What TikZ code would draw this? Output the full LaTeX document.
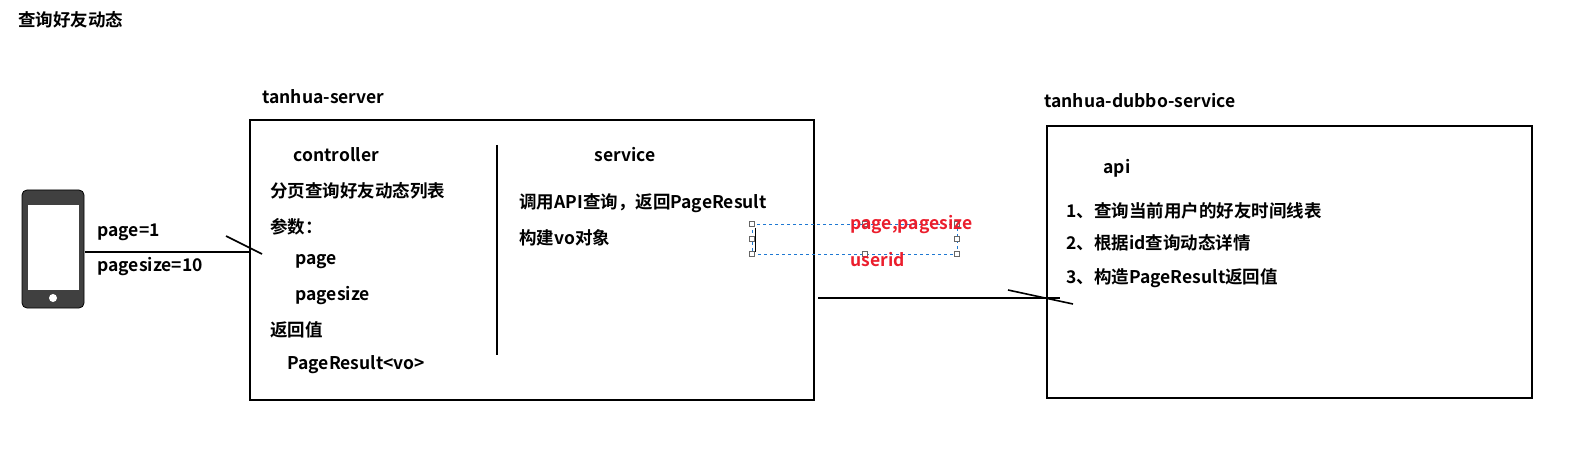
\documentclass[tikz,border=0pt]{standalone}
\usepackage{fontspec}
\setmainfont{Noto Sans CJK SC}[BoldFont={Noto Sans CJK SC Bold}]
\begin{document}
\begin{tikzpicture}[x=1pt,y=-1pt,
                    thick,txt/.style={anchor=west,inner sep=0pt,font=\fontsize{17.5}{17.5}\selectfont\bfseries},
                    red txt/.style={txt,text={rgb,255:red,235;green,30;blue,45}},
                    box/.style={draw,line width=2.2pt},
                    handle/.style={draw=gray!80!black,fill=white,line width=0.6pt,minimum size=5pt,inner sep=0pt}
                   ]
  \useasboundingbox (0,0) rectangle (1588,449);
  \node[txt] (title) at (18,20) {查询好友动态};

  % phone
  \draw[fill=black!75,rounded corners=5pt] (22,190) rectangle (84,308);
  \fill[white] (28,205) rectangle (79,290);
  \fill[white] (53,298) circle (4);
  \coordinate (phone) at (85,252);
  \node[txt] (pg) at (97,232) {page=1};
  \node[txt] (pgs) at (97,267) {pagesize=10};

  % tanhua-server
  \node[txt] (srvlabel) at (262,97) {tanhua-server};
  \draw[box] (250,120) rectangle (814,400);
  \coordinate (srvin) at (249,252);
  \draw[line width=2.2pt] (497,145) -- (497,355);
  \node[txt] (ctrl) at (293,155) {controller};
  \node[txt] (c1) at (270,191) {分页查询好友动态列表};
  \node[txt] (c2) at (270,227) {参数：};
  \node[txt] (c3) at (295,262) {page};
  \node[txt] (c4) at (295,296) {pagesize};
  \node[txt] (c5) at (270,330) {返回值};
  \node[txt] (c6) at (287,365) {PageResult<vo>};
  \node[txt] (svc) at (594,155) {service};
  \node[txt] (s1) at (519,203) {调用API查询，返回PageResult};
  \node[txt] (s2) at (519,238) {构建vo对象};

  % params
  \draw[dashed,draw={rgb,255:red,30;green,120;blue,210},line width=0.7pt] (752,224) rectangle (957,254);
  \draw[line width=0.8pt] (755,228) -- (755,252);
  \foreach \hx/\hy in {752/224,865/224,957/224,752/239,957/239,752/254,865/254,957/254}
    \node[handle] at (\hx,\hy) {};
  \node[red txt] (p1) at (850,225) {page,pagesize};
  \node[red txt] (p2) at (850,260) {userid};

  % tanhua-dubbo-service
  \node[txt] (dublabel) at (1044,101) {tanhua-dubbo-service};
  \draw[box] (1047,126) rectangle (1532,398);
  \coordinate (dubin) at (1060,298);
  \node[txt] (api) at (1103,168) {api};
  \node[txt] (a1) at (1066,211) {1、查询当前用户的好友时间线表};
  \node[txt] (a2) at (1066,243) {2、根据id查询动态详情};
  \node[txt] (a3) at (1066,278) {3、构造PageResult返回值};

  % connectors
  \draw[line width=2.2pt] (phone) -- (srvin);
  \draw[line width=1.6pt] (226,236) -- (262,254);
  \draw[line width=2.2pt] (818,298) -- (dubin);
  \draw[line width=1.6pt] (1008,290) -- (1073,304);
\end{tikzpicture}
\end{document}
